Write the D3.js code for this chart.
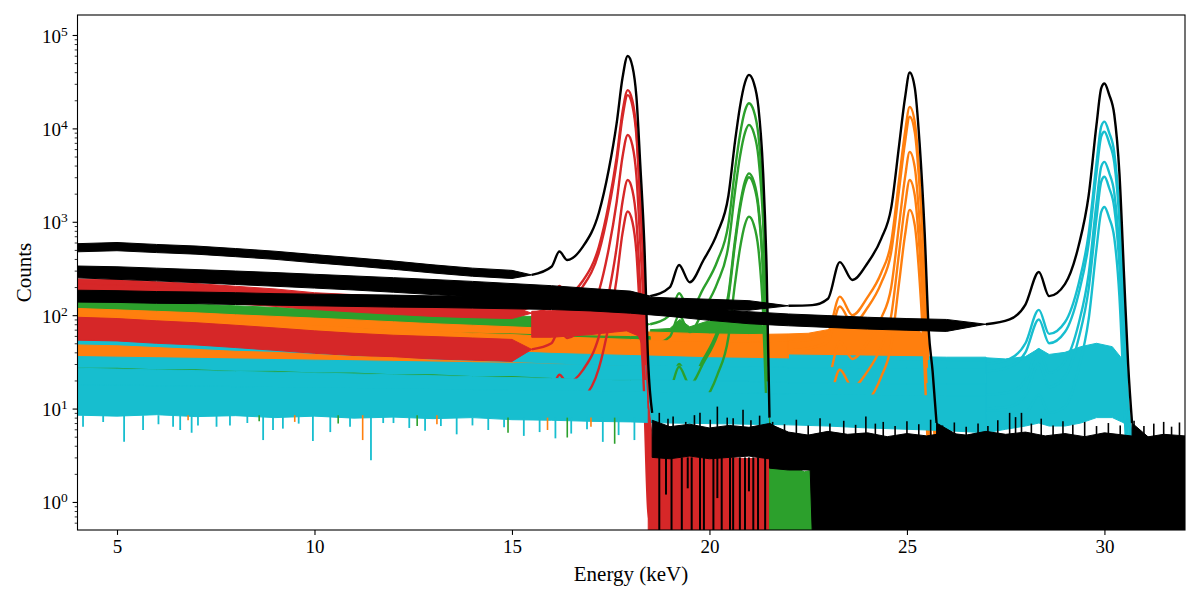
<!DOCTYPE html>
<html><head><meta charset="utf-8">
<script src="https://cdn.jsdelivr.net/npm/d3@7"></script>
<style>body{margin:0;background:#fff}svg{display:block}text{font-family:"Liberation Serif","Times New Roman",serif;fill:#000}</style>
</head><body><svg id="c" width="1200" height="600"></svg>
<script>
// ---------- axes ----------
const xDomain = [4, 32.04];
const yDomain = [0.501, 163700];
const xTicks = [5, 10, 15, 20, 25, 30];
const yMajor = [1, 10, 100, 1000, 10000, 100000];
const yMinor = [0.6,0.7,0.8,0.9,2,3,4,5,6,7,8,9,20,30,40,50,60,70,80,90,200,300,400,500,600,700,800,900,2000,3000,4000,5000,6000,7000,8000,9000,20000,30000,40000,50000,60000,70000,80000,90000];
const colors = {red:"#d62728", green:"#2ca02c", orange:"#ff7f0e", cyan:"#17becf", black:"#000000"};

// ---------- red group (18 keV), runs A..E ----------
const redBandE = [4,5,6,7,8,9,10,11,12,13,14,15,15.5];
const redLo = [
 [178,176,168,160,150,142,131,123,117,111,108,105,120],
 [158,155,148,141,132,124,115,108,102,97,94,92,105],
 [54,53,50,48,45,42,39,37,35,34,33,32,43],
 [10,10,10,10,10,10,9.5,9.5,9.5,9.5,9.5,9.5,9.5],
 [9,9,9,9,9,9,9,9,9,9,9,9,9]];
const redHi = [
 [244,240,228,218,204,191,174,166,158,151,146,141,120],
 [216,210,200,191,180,170,155,147,139,133,129,125,105],
 [95,92,87,83,78,73,68,64,61,59,57,55,43],
 [24,24,23,23,22,22,21,21,20,20,19,19,19],
 [16,16,15,15,15,14,14,14,13,13,13,13,13]];
const redPeakE = [15.5,16.0,16.2,16.4,16.8,17.2,17.45,17.65,17.8,17.93,18.05,18.15,18.25,18.35,18.45,18.55];
const redPeak = [
 [120,142,205,168,235,540,1550,4900,15100,25700,19800,9500,1720,260,13,3],
 [105,125,180,148,205,470,1370,4300,13300,22700,17500,8400,1520,230,11.5,2.5],
 [43,50,70,57,79,180,515,1620,5000,8500,6550,3140,570,86,4.5,1.2],
 [14,16,23,19,26,59,170,530,1650,2800,2160,1030,188,28,1.6,0.5],
 [10,10.5,12,11,13,27,78,245,760,1290,995,475,87,13,0.8,0.3]];
const redFloorE = [15.5,16,16.5,17,17.3,17.6,17.9,18.2,18.38,18.45];
const redFloorLo = [58,58,60,62,64,66,68,60,40,10];
const redFloorHi = [110,112,118,125,130,140,150,140,90,15];
const redTailE = [18.45,18.55,18.7,19,19.5,20,20.5,21,21.3,21.53];
const redTailLo = [0.3,0.3,0.3,0.3,0.3,0.3,0.3,0.3,0.3,0.3];
const redTailHi = [12,5,3.2,3,3.1,2.9,3,2.9,3,3];

// ---------- green group (21 keV) ----------
const greenBandE = [4,5,6,7,8,9,10,11,12,13,14,15,16,17,18,18.5];
const greenLo = [
 [108,106,101,97,93,89,86,82,79,76,74,72,70,68,67,80],
 [58,56,55,52,50,47,46,44,42,40,40,39,37,36,36,35],
 [11,11,10,10,10,10,10,10,10,10,10,10,10,10,10,10],
 [10,10,9.5,9.5,9.5,9.5,9.5,9.5,9.5,9.5,9.5,9.5,9.5,9.5,9.5,9.5],
 [9,9,9,9,9,9,9,9,9,9,9,9,9,9,9,9]];
const greenHi = [
 [146,143,138,132,126,121,116,112,108,104,100,98,96,94,92,80],
 [92,90,87,84,80,77,74,72,68,66,64,63,61,60,59,59],
 [35,34,33,32,30,29,28,27,26,25,24,24,23,22,22,22],
 [27,27,26,26,25,25,24,24,23,23,22,22,21,20,20,20],
 [16,16,15,15,15,14,14,14,13,13,13,13,12,12,12,12]];
const greenPeakE = [18.5,19.0,19.23,19.5,19.85,20.2,20.48,20.65,20.77,20.9,21.0,21.12,21.24,21.36,21.45,21.52];
const greenPeak = [
 [80,100,172,112,195,380,950,3700,8400,15500,18600,15500,8400,1650,140,15],
 [47,59,100,66,114,222,555,2150,4900,9000,10900,9000,4900,960,82,9],
 [14,18,30,20,34,67,168,650,1480,2730,3300,2730,1480,290,25,2.7],
 [13,16,28,18,31,61,152,590,1350,2480,3000,2480,1350,265,22,2.4],
 [10,10,11,10,12,23,58,224,510,940,1135,940,510,100,8.5,0.9]];
const greenFloorE = [18.5,19,19.25,19.5,19.9,20.3,20.6,20.9,21.2,21.4,21.5];
const greenFloorLo = [30,30,32,31,33,35,38,40,38,25,8];
const greenFloorHi = [70,72,90,75,85,90,95,100,95,70,15];
const greenTailE = [21.52,21.6,21.8,22,22.2,22.4,22.6];
const greenTailLo = [0.3,0.3,0.3,0.3,0.3,0.3,0.3];
const greenTailHi = [8,3,2.4,2.2,2.3,2.1,2.2];

// ---------- orange group (25 keV) ----------
const orangeBandE = [4,5,6,7,8,9,10,11,12,13,14,15,16,17,18,19,20,21,22];
const orangeLo = [
 [83,80,76,74,70,67,64,61,58,56,53,51,49,47,45,43,42,41,42],
 [66,63,60,58,55,53,50,48,45,44,41,40,38,36,35,34,33,32,33],
 [24,23,22,21,20,19,18,17,16,15,15,14,14,13,12,12,11,11,11],
 [10,10,10,10,10,10,10,10,10,10,10,10,10,10,10,10,10,10,10],
 [9,9,9,9,9,9,9,9,9,9,9,9,9,9,9,9,9,9,9]];
const orangeHi = [
 [118,114,110,106,101,97,93,89,85,81,78,75,72,69,67,65,63,62,63],
 [100,97,92,89,85,81,78,74,70,68,64,62,59,57,55,53,52,51,52],
 [48,47,45,43,41,40,38,36,35,33,32,31,30,29,28,27,26,26,26],
 [26,25,24,23,22,21,21,20,19,18.5,18,17,16.5,16,15.5,15,14.5,14.5,14.5],
 [17,16.5,16,15.5,15,14.5,14,13.5,13,12.5,12,12,11.5,11,11,10.5,10.5,10.5,10.5]];
const orangePeakE = [22,22.6,23.0,23.3,23.62,24.0,24.35,24.6,24.8,24.95,25.07,25.2,25.32,25.45,25.55,25.65,25.75];
const orangePeak = [
 [52,55,65,158,100,155,285,600,2800,9000,17000,11600,3000,320,30,10,4.5],
 [42,45,52,124,80,120,222,470,2180,7000,13300,9000,2350,250,23,8,3.5],
 [17,18,21,52,34,51,93,197,920,2950,5600,3800,990,105,10,3.5,1.5],
 [12,12,12,26,17,25,46,98,460,1480,2800,1900,495,53,5,2,0.8],
 [10,10,10,12.5,10,12,22,47,220,710,1340,910,237,25,2.5,1,0.5]];
const orangeFloorE = [22,22.5,23,23.3,23.6,24,24.4,24.8,25.2,25.45,25.55];
const orangeFloorLo = [11,11,12,14,13,13,14,15,15,12,5];
const orangeFloorHi = [63,64,70,80,72,72,75,78,75,60,12];

// ---------- cyan group (30 keV) ----------
const cyanBandE = [4,5,6,7,8,9,10,11,12,13,14,15,16,17,18,19,20,21,22,23,24,25,26,27];
const cyanLo = [
 [47,46,45,43.5,42,41,39.5,38,37,35.5,34,33,32,31,30,29,28,27.5,27,27,26.5,26,25.5,25.5],
 [43,42,41,40,39,38,36.5,35,34,33,32,31,30,29,28,27,26,25.5,25,25,24.5,24,23.5,23.5],
 [14,14,13.5,13.5,13,13,12.5,12.5,12,12,11.5,11.5,11,11,11,10.5,10.5,10.5,10,10,10,10,10,10],
 [9.5,9.5,9.3,9.2,9,9,8.8,8.7,8.5,8.4,8.3,8.2,8,7.8,7.7,7.6,7.5,7.4,7.3,7.2,7.1,7,7,7],
 [8.5,8.3,8.6,8.2,8.4,8,8.3,7.9,8.1,7.8,8,7.6,7.5,7.3,7.2,7,6.9,6.8,6.7,6.5,6.2,6,5.8,5.5]];
const cyanHi = [
 [62,61,59,57.5,56,54,52.5,51,49,47.5,46,44,42.5,41.5,40.5,39.5,38.5,38,37.5,37,36.5,36,35.5,35.5],
 [57,56,54,53,51.5,50,48.5,47,45,43.5,42,40.5,39,38,37,36,35,34.5,34,34,33.5,33,32.5,32.5],
 [36,35.5,35,34.5,34,33.5,33,32.5,32,31.5,31,30.5,30,29.5,29,28.5,28,28,27.5,27.5,27,27,27,27],
 [27,26.5,26,25.5,25,24.5,24,23.5,23,22.5,22,21.5,21,20.5,20,20,19.5,19.5,19,19,18.5,18.5,18.5,18.5],
 [18,17.8,17.6,17.4,17.2,17,16.8,16.6,16.4,16.2,16,15.8,15.6,15.4,15.2,15,14.8,14.6,14.4,14.2,14,13.8,13.6,13.6]];
const cyanPeakE = [27,27.6,28.0,28.34,28.6,29.0,29.35,29.6,29.8,29.92,30.0,30.12,30.25,30.38,30.5,30.6,30.7];
const cyanPeak = [
 [30,34,50,114,63,84,220,745,4300,10500,11800,9000,5500,1290,98,12,4.7],
 [25,28,40,90,50,66,172,580,3350,8200,9200,7000,4270,1000,76,9,3.6],
 [14,15,20,43,24,32,82,275,1600,3900,4380,3350,2030,480,36,4.4,1.7],
 [10,10.5,14,30,17,22,57,190,1100,2700,3030,2300,1400,330,25,3,1.2],
 [9,9,9,14,9,10.5,27,90,520,1280,1440,1100,670,157,12,1.4,0.6]];
const cyanFloorE = [27,27.5,28,28.34,28.6,29,29.4,29.8,30.2,30.5,30.6];
const cyanFloorLo = [5.5,6,6.5,7,6.5,6.5,7,8,8,7,5];
const cyanFloorHi = [35,34,36,44,38,40,46,50,46,32,10];

// ---------- black sums ----------
const k1Lo = [477,490,468,450,423,396,364,337,310,283,261,247,270];
const k1Hi = [583,600,572,550,517,484,445,412,380,346,319,302,270];
const k1Peak = [270,330,480,390,545,1250,3600,11300,35000,59600,46000,22000,4000,600,30,9];
const k2Lo = [264,260,251,242,233,224,216,207,198,189,180,172,163,151,143,160];
const k2Hi = [336,330,319,308,297,286,274,263,252,241,230,218,207,193,181,160];
const k2Peak = [160,200,345,225,390,760,1900,7400,16800,31000,37400,31000,16800,3300,280,8];
const k3Lo = [251,242,233,223,213,204,195,186,176,166,157,148,139,132,125,121,116,113,126];
const k3Hi = [319,308,297,283,271,260,249,236,224,212,199,188,177,168,159,153,148,143,126];
const k3Peak = [126,128,150,370,238,360,660,1400,6500,21000,39700,27000,7000,750,70,25,7];
const k4Lo = [138,137,134,133,130,128,126,124,122,121,119,117,115,111,105,97,88,81,77,74,71,69,67,80];
const k4Hi = [185,183,179,177,174,170,168,166,164,161,159,157,155,149,140,129,118,109,103,99,95,92,90,80];
const k4Peak = [80,90,130,290,160,215,560,1900,11000,27000,30200,23000,14000,3300,250,30,7];

// black low-count noise after each peak
const k1NoiseE = [18.55,19,19.5,20,20.5,21,21.5,22,22.5,23,23.5,24,24.5,25,25.5,26,26.5,27,27.5,28,28.5,29,29.5,30,30.5,31,31.5,32.04];
const k1NoiseLo = [3,2.9,3.1,2.9,3,3.1,2.9,3,3,3,3,3,3,3,3,3,3,3,3,3,3,3,3,3,3,3,3,3];
const k1NoiseHi = [7.5,6.4,6.8,6.2,6.6,6.3,6.9,5.6,5.2,5.7,5.3,5.5,5.0,5.4,5.1,5.5,5.2,5.7,5.3,5.6,5.1,5.4,5.0,5.5,5.2,4.9,5.3,5.1];
const k2NoiseE = [21.52,22,22.55,22.6,23,23.5,24,24.5,25,25.5,26,26.5,27,27.5,28,28.5,29,29.5,30,30.5,31,31.5,32.04];
const k2NoiseLo = [2.3,2.2,2.2,0.3,0.3,0.3,0.3,0.3,0.3,0.3,0.3,0.3,0.3,0.3,0.3,0.3,0.3,0.3,0.3,0.3,0.3,0.3,0.3];
const k2NoiseHi = [7,5.2,4.8,4.9,5.1,4.9,5.2,4.7,5,4.8,5.1,4.9,5.2,4.8,5,4.7,5,4.8,5.1,4.9,4.7,5,4.8];
const k3NoiseE = [25.75,26.5,27,27.5,28,28.5,29,29.5,30,30.5,31,31.5,32.04];
const k3NoiseLo = [0.3,0.3,0.3,0.3,0.3,0.3,0.3,0.3,0.3,0.3,0.3,0.3,0.3];
const k3NoiseHi = [7,4.6,4.9,4.5,4.8,4.4,4.7,4.5,4.8,4.6,4.4,4.7,4.5];
const k4NoiseE = [30.7,31.2,31.6,32.04];
const k4NoiseLo = [0.3,0.3,0.3,0.3];
const k4NoiseHi = [7,4.6,4.8,4.5];

// individual noise spikes: [energy, from, to]
const blackUp = [[18.73,5,9],[18.95,5,7.8],[19.08,5,8.2],[19.4,5,7.2],[19.62,5,8.5],[19.76,5,9],[20.02,5,7.6],[20.2,5,10.5],[20.45,5,8],[20.6,5,7.9],[20.85,5,9.7],[21.05,5,7.5],[21.27,5,8.4],[21.6,4.5,7.2],[21.9,4.5,6.8],[22.2,4.5,7.6],[22.5,4.5,6.6],[22.8,4.5,7.9],[23.05,4.5,6.9],[23.4,4.5,7.4],[23.7,4.5,6.7],[23.96,4.5,8.2],[24.2,4.5,6.9],[24.4,4.5,7.2],[24.7,4.5,6.5],[25.0,4.5,7.3],[25.3,4.5,6.8],[25.6,4.5,7.6],[25.9,4.5,6.6],[26.2,4.5,7.1],[26.5,4.5,6.4],[26.8,4.5,6.9],[27.05,4.5,6.5],[27.3,4.5,7.5],[27.6,4.5,9],[27.75,4.5,8.1],[27.9,4.5,9],[28.15,4.5,6.9],[28.4,4.5,7.8],[28.7,4.5,6.6],[28.95,4.5,7.3],[29.2,4.5,6.7],[29.5,4.5,7.2],[29.8,4.5,6.5],[30.1,4.5,7],[30.4,4.5,6.6],[30.75,4.5,7.4],[31.0,4.5,6.5],[31.25,4.5,6.9],[31.5,4.5,7.2],[31.7,4.5,6.4],[31.9,4.5,7.1]];
const blackDown = [[18.73,3,0.3],[18.9,3,1.2],[19.04,3,0.3],[19.3,3,0.3],[19.45,3,1.4],[19.55,3,0.3],[19.76,3,0.3],[19.86,3,0.3],[20.1,3,0.3],[20.2,3,1.1],[20.31,3,0.3],[20.52,3,0.3],[20.6,3,0.3],[20.77,3,0.3],[20.9,3,0.3],[21.0,3,1.3],[21.11,3,0.3],[21.23,3,0.3],[21.41,3,0.3]];
const cyanDips = [[4.14,8.5,6.4],[4.65,8.5,7.2],[5.18,8.5,4.4],[5.66,8.5,5.9],[6.05,8.5,6.8],[6.42,8.5,6.4],[6.6,8.5,5.9],[6.89,8.5,5.5],[7.05,8.5,6.6],[7.52,8.5,6.4],[7.86,8.5,6.6],[8.3,8.5,7],[8.7,8.5,4.6],[8.95,8.5,5.9],[9.2,8.5,6.1],[9.6,8.5,6.9],[9.96,8.5,4.5],[10.4,8.5,5.6],[10.9,8.5,6.4],[11.43,8.5,2.8],[11.74,8.5,7],[12.0,8.5,7],[12.4,8.5,6.2],[12.8,8.5,5.8],[13.2,8.5,6.5],[13.6,8,5.3],[14.0,8,6.6],[14.4,8,5.9],[14.8,8,6.3],[15.3,8,5.1],[15.7,8,5.6],[16.1,8,4.8],[16.5,8,5.4],[16.9,8,6],[17.3,8,4.4],[17.7,8,5.2],[18.1,8,4.6]];
const orangeDips = [[6.8,8.5,7.5],[9.5,8.5,7.2],[11.22,8.5,4.6],[13.1,8.5,6.8],[15.9,8,5.9],[17.0,8,6.4]];
const greenDips = [[8.6,8.5,7.3],[10.6,8.5,6.9],[12.6,8.5,6.5],[14.9,8,5.5],[16.4,8,4.9],[17.6,8,4.2]];

// ---------- drawing ----------
const svg = d3.select('#c');
const X0 = 77.5, X1 = 1185, Y0 = 15, Y1 = 530;
const x = d3.scaleLinear().domain(xDomain).range([X0, X1]);
const y = d3.scaleLog().domain(yDomain).range([Y1, Y0]).clamp(true);

svg.append('defs').append('clipPath').attr('id','clip')
  .append('rect').attr('x',X0).attr('y',Y0).attr('width',X1-X0).attr('height',Y1-Y0);
const g = svg.append('g').attr('clip-path','url(#clip)');

const areaGen = d3.area().x(d=>x(d[0])).y0(d=>y(d[1])).y1(d=>y(d[2]));
const lineGen = d3.line().x(d=>x(d[0])).y(d=>y(d[1])).curve(d3.curveMonotoneX);

function band(E, lo, hi, col){
  g.append('path').datum(E.map((e,i)=>[e, lo[i], hi[i]])).attr('d', areaGen)
   .attr('fill', col).attr('stroke', col).attr('stroke-width', 1).attr('stroke-linejoin','round');
}
function curve(E, v, col){
  g.append('path').datum(E.map((e,i)=>[e, v[i]])).attr('d', lineGen)
   .attr('fill','none').attr('stroke', col).attr('stroke-width', 2.4).attr('stroke-linejoin','round');
}
function spikes(list, col, w){
  g.append('g').selectAll('line').data(list).enter().append('line')
   .attr('x1', d=>x(d[0])).attr('x2', d=>x(d[0]))
   .attr('y1', d=>y(d[1])).attr('y2', d=>y(d[2]))
   .attr('stroke', col).attr('stroke-width', w);
}

// noisy floors under the rising flanks
band(greenFloorE, greenFloorLo, greenFloorHi, colors.green);
band(orangeFloorE, orangeFloorLo, orangeFloorHi, colors.orange);
band(cyanFloorE, cyanFloorLo, cyanFloorHi, colors.cyan);

// runs A..E, each plotted red, green, orange, cyan
const groups = [
  [redBandE, redLo, redHi, redPeakE, redPeak, colors.red],
  [greenBandE, greenLo, greenHi, greenPeakE, greenPeak, colors.green],
  [orangeBandE, orangeLo, orangeHi, orangePeakE, orangePeak, colors.orange],
  [cyanBandE, cyanLo, cyanHi, cyanPeakE, cyanPeak, colors.cyan]];
for (let r = 0; r < 5; r++){
  groups.forEach(([bE, lo, hi, pE, pk, col]) => { band(bE, lo[r], hi[r], col); curve(pE, pk[r], col); });
}
band(redFloorE, redFloorLo, redFloorHi, colors.red);
band(redTailE, redTailLo, redTailHi, colors.red);
band(greenTailE, greenTailLo, greenTailHi, colors.green);
spikes(greenDips, colors.green, 1.6);
spikes(orangeDips, colors.orange, 1.6);
spikes(cyanDips, colors.cyan, 1.8);

// black sums
band(redBandE, k1Lo, k1Hi, colors.black);     curve(redPeakE, k1Peak, colors.black);
band(greenBandE, k2Lo, k2Hi, colors.black);   curve(greenPeakE, k2Peak, colors.black);
band(orangeBandE, k3Lo, k3Hi, colors.black);  curve(orangePeakE, k3Peak, colors.black);
band(cyanBandE, k4Lo, k4Hi, colors.black);    curve(cyanPeakE, k4Peak, colors.black);
band(k1NoiseE, k1NoiseLo, k1NoiseHi, colors.black);
band(k2NoiseE, k2NoiseLo, k2NoiseHi, colors.black);
band(k3NoiseE, k3NoiseLo, k3NoiseHi, colors.black);
band(k4NoiseE, k4NoiseLo, k4NoiseHi, colors.black);
spikes(blackUp, colors.black, 1.6);
spikes(blackDown, colors.black, 2);

// ---------- axes ----------
const FONT = '"Liberation Serif","Times New Roman",serif';
const xa = svg.append('g').attr('transform',`translate(0,${Y1})`)
  .call(d3.axisBottom(x).tickValues(xTicks).tickSize(4.9).tickPadding(4.9).tickFormat(d3.format('d')));
xa.select('.domain').remove();
xa.selectAll('line').attr('stroke','#000').attr('stroke-width',1.1);
xa.selectAll('text').attr('font-family',FONT).attr('font-size',19).attr('fill','#000');

const yaMin = svg.append('g').attr('transform',`translate(${X0},0)`)
  .call(d3.axisLeft(y).tickValues(yMinor).tickSize(2.8).tickFormat(''));
yaMin.select('.domain').remove();
yaMin.selectAll('line').attr('stroke','#000').attr('stroke-width',0.8);

const ya = svg.append('g').attr('transform',`translate(${X0},0)`)
  .call(d3.axisLeft(y).tickValues(yMajor).tickSize(4.9).tickPadding(4.9).tickFormat(''));
ya.select('.domain').remove();
ya.selectAll('line').attr('stroke','#000').attr('stroke-width',1.1);
ya.selectAll('.tick text').each(function(d){
  const t = d3.select(this).attr('font-family',FONT).attr('font-size',19).attr('fill','#000').attr('dy','0.37em');
  t.text(null);
  t.append('tspan').text('10');
  t.append('tspan').attr('dy','-7').attr('font-size',13.5).text(Math.round(Math.log10(d)));
});

svg.append('rect').attr('x',X0).attr('y',Y0).attr('width',X1-X0).attr('height',Y1-Y0)
  .attr('fill','none').attr('stroke','#000').attr('stroke-width',1.1);

svg.append('text').attr('x',631).attr('y',581).attr('text-anchor','middle')
  .attr('font-family',FONT).attr('font-size',21).text('Energy (keV)');
svg.append('text').attr('transform',`translate(31,${(Y0+Y1)/2}) rotate(-90)`).attr('text-anchor','middle')
  .attr('font-family',FONT).attr('font-size',21).text('Counts');
</script>
</body></html>
